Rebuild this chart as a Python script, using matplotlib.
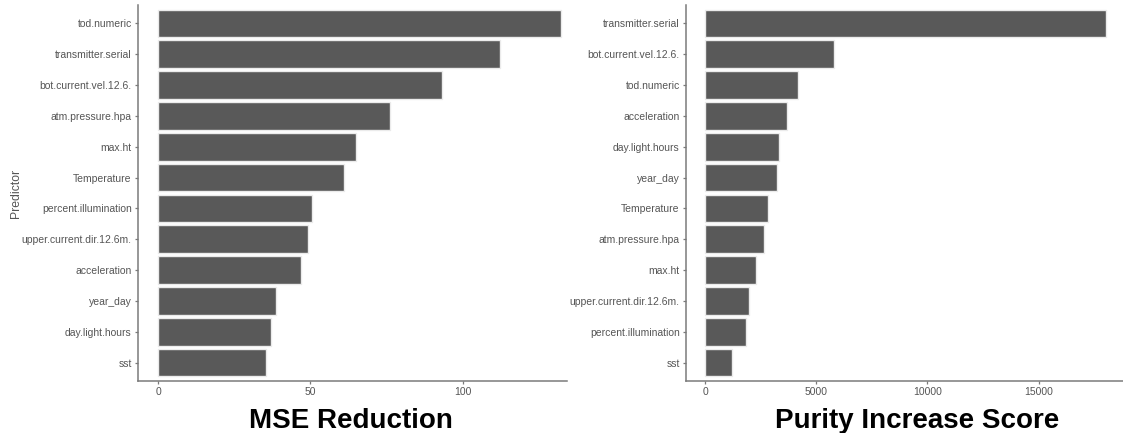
import matplotlib
matplotlib.use('agg')
from matplotlib import pyplot as plt
import numpy as np

plt.rcParams['font.family'] = ['Liberation Sans', 'DejaVu Sans']

# left panel: MSE reduction, top to bottom
mse_names = ['tod.numeric', 'transmitter.serial', 'bot.current.vel.12.6.',
             'atm.pressure.hpa', 'max.ht', 'Temperature', 'percent.illumination',
             'upper.current.dir.12.6m.', 'acceleration', 'year_day',
             'day.light.hours', 'sst']
mse_values = [132.2, 112.3, 93.1, 76.1, 64.8, 61.1, 50.5, 49.2, 47.0, 38.6, 37.2, 35.4]

# right panel: purity increase, top to bottom
purity_names = ['transmitter.serial', 'bot.current.vel.12.6.', 'tod.numeric',
                'acceleration', 'day.light.hours', 'year_day', 'Temperature',
                'atm.pressure.hpa', 'max.ht', 'upper.current.dir.12.6m.',
                'percent.illumination', 'sst']
purity_values = [18050, 5780, 4165, 3665, 3326, 3245, 2809, 2632, 2293, 1986, 1840, 1195]

mse_ticks = [0, 50, 100]
purity_ticks = [0, 5000, 10000, 15000]

W, H = 1123, 433
fig = plt.figure(figsize=(W / 100, H / 100), dpi=100)

ax1 = fig.add_axes([138 / W, 1 - 381 / H, (567 - 138) / W, (381 - 5) / H])
ax2 = fig.add_axes([686 / W, 1 - 381 / H, (1123 - 686) / W, (381 - 5) / H])

gray = '#555555'
line_gray = '#7a7a7a'


def panel(ax, names, values, ticks, xlim):
    n = len(names)
    pos = np.arange(n)[::-1]
    ax.barh(pos, values, height=0.9, color='#595959', edgecolor='#ebebeb', linewidth=1)
    ax.set_yticks(pos)
    ax.set_yticklabels(names)
    ax.set_ylim(-0.6, n - 0.4)
    ax.set_xlim(*xlim)
    ax.set_xticks(ticks)
    ax.set_xticklabels([str(t) for t in ticks])
    for s in ['top', 'right']:
        ax.spines[s].set_visible(False)
    for s in ['left', 'bottom']:
        ax.spines[s].set_color(line_gray)
        ax.spines[s].set_linewidth(1.1)
    ax.tick_params(axis='both', length=2.5, width=0.9, color=line_gray,
                   labelcolor=gray, labelsize=7.5, pad=2)


panel(ax1, mse_names, mse_values, mse_ticks, (-6.6, 134.2))
panel(ax2, purity_names, purity_values, purity_ticks, (-860, 18795))

ax1.set_ylabel('Predictor', fontsize=8.8, color=gray, labelpad=0)

fig.text(351 / W, 1 - 421 / H, 'MSE Reduction', ha='center', va='center',
         fontsize=20, fontweight='bold', color='black')
fig.text(917 / W, 1 - 421 / H, 'Purity Increase Score', ha='center', va='center',
         fontsize=20, fontweight='bold', color='black')

plt.savefig('out.png', dpi=100)
